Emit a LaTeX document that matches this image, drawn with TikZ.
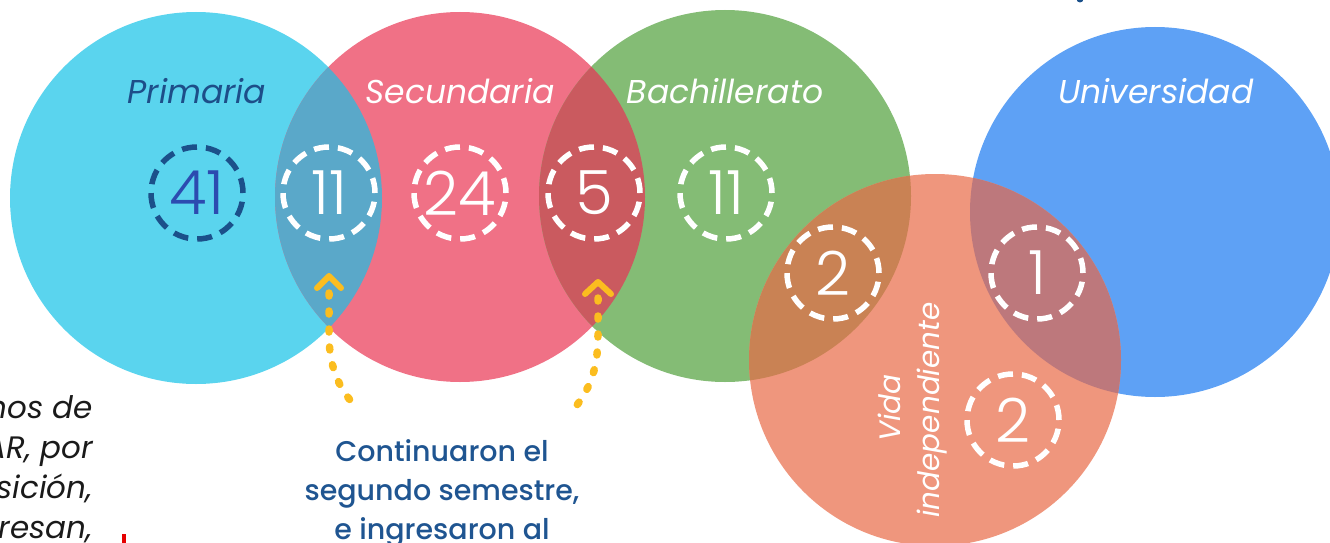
\documentclass[tikz,border=0pt]{standalone}
\usepackage{fontspec}
\setmainfont{Poppins}
\newfontfamily\numfont{Poppins Light}
\newfontfamily\medfont{Poppins Medium}
\definecolor{cprim}{HTML}{5AD4EE}
\definecolor{csec}{HTML}{F07186}
\definecolor{cbach}{HTML}{84BC75}
\definecolor{cuniv}{HTML}{5EA1F5}
\definecolor{cvida}{HTML}{EF967D}
\definecolor{cps}{HTML}{5AA8C9}
\definecolor{csb}{HTML}{CA5A5F}
\definecolor{cbv}{HTML}{C98254}
\definecolor{cuv}{HTML}{BD787C}
\definecolor{cring}{HTML}{1B508A}
\definecolor{cdig}{HTML}{2C4BB0}
\definecolor{clab}{HTML}{1D4E89}
\definecolor{cyel}{HTML}{FBBD1F}
\definecolor{ctxt}{HTML}{1F5591}
\definecolor{cblk}{HTML}{1A1A1A}
\tikzset{
  bigc/.style={circle, inner sep=0pt, outer sep=0pt, minimum size=#1},
  ring/.style={circle, inner sep=0pt, minimum size=92pt, line width=5.5pt,
    dash pattern=on 15.1pt off 9pt, draw=white, text=white,
    font=\numfont\fontsize{61}{61}\selectfont},
  lbl/.style={anchor=base, inner sep=0pt, text=white,
    font=\itshape\fontsize{33}{38}\selectfont},
  vlbl/.style={anchor=base, inner sep=0pt, rotate=90, text=white,
    font=\itshape\fontsize{29.5}{35}\selectfont},
  bottxt/.style={anchor=base, inner sep=0pt, text=ctxt,
    font=\medfont\fontsize{28.5}{34}\selectfont},
  lefttxt/.style={anchor=base east, inner sep=0pt, text=cblk,
    font=\itshape\fontsize{31}{36}\selectfont},
  chev/.style={draw=cyel, line width=6pt, line cap=round, line join=round},
  dotline/.style={draw=cyel, line width=7.5pt, line cap=round, dash pattern=on 3pt off 15pt}
}
\begin{document}
\begin{tikzpicture}[x=1pt,y=-1pt]
\useasboundingbox (0,0) rectangle (1330,543);
\clip (0,0) rectangle (1330,543);
% big circles
\node[bigc=372pt, fill=cprim] (prim) at (196,198) {};
\node[bigc=370pt, fill=csec] (sec) at (460,197) {};
\node[bigc=372pt, fill=cbach] (bach) at (725,196) {};
\node[bigc=370pt, fill=cuniv] (univ) at (1155,212) {};
\node[bigc=372pt, fill=cvida] (vida) at (935,360) {};
% overlaps
\begin{scope}
  \clip (prim.center) circle (186pt);
  \fill[cps] (sec.center) circle (185pt);
\end{scope}
\begin{scope}
  \clip (sec.center) circle (185pt);
  \fill[csb] (bach.center) circle (186pt);
\end{scope}
\begin{scope}
  \clip (bach.center) circle (186pt);
  \fill[cbv] (vida.center) circle (186pt);
\end{scope}
\begin{scope}
  \clip (univ.center) circle (185pt);
  \fill[cuv] (vida.center) circle (186pt);
\end{scope}
% labels
\node[lbl, text=clab] (lprim) at (197,103) {Primaria};
\node[lbl] (lsec) at (460,103) {Secundaria};
\node[lbl] (lbach) at (725,103) {Bachillerato};
\node[lbl] (luniv) at (1156,103) {Universidad};
\node[vlbl] (lvida1) at (900,408) {Vida};
\node[vlbl] (lvida2) at (939,410) {independiente};
% rings
\node[ring, draw=cring, text=cdig] (r41) at (197,193) {41};
\node[ring] (r11a) at (329,193) {11};
\node[ring] (r24) at (460,193) {24};
\node[ring] (r5) at (594,193) {5};
\node[ring] (r11b) at (726,193) {11};
\node[ring] (r2a) at (833,273) {2};
\node[ring] (r1) at (1037,273) {1};
\node[ring] (r2b) at (1013,420) {2};
% arrows
\coordinate (a1tip) at (329,276);
\coordinate (a1l) at (317,288);
\coordinate (a1r) at (341,288);
\coordinate (a1s) at (329,293);
\coordinate (a1e) at (350,400);
\draw[chev] (a1l) -- (a1tip) -- (a1r);
\draw[dotline] (a1s) -- (329,335) .. controls (329,365) and (338,385) .. (a1e);
\coordinate (a2tip) at (598,282);
\coordinate (a2l) at (585,294);
\coordinate (a2r) at (611,294);
\coordinate (a2s) at (598,298);
\coordinate (a2e) at (577,405);
\draw[chev] (a2l) -- (a2tip) -- (a2r);
\draw[dotline] (a2s) -- (598,335) .. controls (598,365) and (592,385) .. (a2e);
% bottom text
\node[bottxt] (t1) at (442,461) {Continuaron el};
\node[bottxt] (t2) at (442,500) {segundo semestre,};
\node[bottxt] (t3) at (442,539) {e ingresaron al};
% left text
\node[lefttxt] (l1) at (93,418) {nos de};
\node[lefttxt] (l2) at (93,458) {AR, por};
\node[lefttxt] (l3) at (93,498) {sición,};
\node[lefttxt] (l4) at (93,538) {gresan,};
% small marks
\node[fill=red!90!black, inner sep=0pt, minimum width=4pt, minimum height=10pt, anchor=north] (redmark) at (124,534) {};
\node[circle, fill=cring, inner sep=0pt, minimum size=7pt] (bluedot) at (1080,-1) {};
\end{tikzpicture}
\end{document}
